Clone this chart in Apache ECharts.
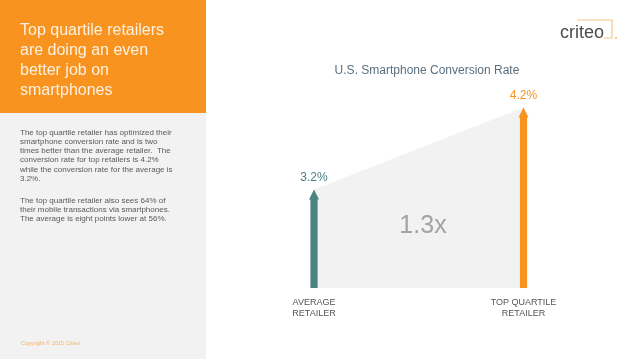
<!DOCTYPE html>
<html>
<head>
<meta charset="utf-8">
<script src="https://cdn.jsdelivr.net/npm/echarts@6/dist/echarts.min.js"></script>
<style>
html,body{margin:0;padding:0;background:#fff;}
#chart{width:638px;height:359px;}
</style>
</head>
<body>
<div id="chart"></div>
<script>
var categories = ['AVERAGE\nRETAILER', 'TOP QUARTILE\nRETAILER'];
var values = [3.2, 4.2];
var valueLabels = ['3.2%', '4.2%'];
var arrowColors = ['#4b8282', '#f7931e'];
var ratioLabel = '1.3x';
var chartTitle = 'U.S. Smartphone Conversion Rate';
var headline = ['Top quartile retailers', 'are doing an even', 'better job on', 'smartphones'];
var para1 = ['The top quartile retailer has optimized their', 'smartphone conversion rate and is two', 'times better than the average retailer.  The', 'conversion rate for top retailers is 4.2%', 'while the conversion rate for the average is', '3.2%.'];
var para2 = ['The top quartile retailer also sees 64% of', 'their mobile transactions via smartphones.', 'The average is eight points lower at 56%.'];
var copyright = 'Copyright \u00a9 2015 Criteo';
var yMin = 2, yMax = 4.5;

var chart = echarts.init(document.getElementById('chart'), null, {renderer: 'canvas'});
var font = '"Liberation Sans", Arial, Helvetica, sans-serif';

var graphics = [
  {type: 'rect', shape: {x: 0, y: 0, width: 206, height: 359}, style: {fill: '#f2f2f2'}, z: -10},
  {type: 'rect', shape: {x: 0, y: 0, width: 206, height: 113}, style: {fill: '#f7931e'}, z: -9},
  {type: 'text', left: 20, top: 21, style: {text: headline.join('\n'), fill: '#fdf1e2', font: '16px ' + font, lineHeight: 20}},
  {type: 'text', left: 20, top: 128, style: {text: para1.join('\n'), fill: '#5a5a5a', font: '8px ' + font, lineHeight: 9.2}},
  {type: 'text', left: 20, top: 196, style: {text: para2.join('\n'), fill: '#5a5a5a', font: '8px ' + font, lineHeight: 9.2}},
  {type: 'text', left: 21, top: 340, style: {text: copyright, fill: '#f6b06a', font: '5.5px ' + font}},
  {type: 'text', left: 560, top: 24, style: {text: 'criteo', fill: '#4d4d4d', font: '18px ' + font}},
  {type: 'polyline', shape: {points: [[577, 20], [612, 20], [612, 38], [604, 38]]}, style: {stroke: '#f7c48a', lineWidth: 1.2, fill: null}},
  {type: 'circle', shape: {cx: 616, cy: 38, r: 0.9}, style: {fill: '#f7b060'}},
  {type: 'text', x: 423, y: 226, style: {text: ratioLabel, fill: '#a3a3a3', font: '25px ' + font, align: 'center', verticalAlign: 'middle'}, z: 3}
];

chart.setOption({
  animation: false,
  backgroundColor: '#ffffff',
  title: {
    text: chartTitle, left: 422, top: 60, textAlign: 'center',
    textStyle: {color: '#5b6f7d', fontSize: 12, fontWeight: 'normal', fontFamily: font}
  },
  graphic: graphics,
  grid: {left: 314, right: 114.5, top: 83, bottom: 71},
  xAxis: {
    type: 'category', data: categories, boundaryGap: false,
    axisLine: {show: false}, axisTick: {show: false}, splitLine: {show: false},
    axisLabel: {color: '#555', fontSize: 9, lineHeight: 11, margin: 9, fontFamily: font, interval: 0}
  },
  yAxis: {
    type: 'value', min: yMin, max: yMax, show: false
  },
  series: [
    {
      type: 'line', data: values, symbol: 'none', lineStyle: {width: 0},
      areaStyle: {color: '#f2f2f2', opacity: 1}, z: 1, silent: true
    },
    {
      type: 'custom', z: 5,
      data: values.map(function (v, i) { return [i, v]; }),
      renderItem: function (params, api) {
        var i = api.value(0), v = api.value(1);
        var tip = api.coord([i, v]);
        var base = api.coord([i, yMin]);
        var x = tip[0];
        var sw = 3.6, hw = 5, hh = 10;
        var col = arrowColors[params.dataIndex];
        return {
          type: 'group',
          children: [
            {type: 'polygon', shape: {points: [
              [x - sw, base[1]], [x - sw, tip[1] + hh], [x - hw, tip[1] + hh], [x, tip[1]],
              [x + hw, tip[1] + hh], [x + sw, tip[1] + hh], [x + sw, base[1]]
            ]}, style: {fill: col}},
            {type: 'text', x: x, y: tip[1] - 12, style: {
              text: valueLabels[params.dataIndex], fill: col, font: '12px ' + font,
              align: 'center', verticalAlign: 'middle'
            }}
          ]
        };
      }
    }
  ]
});
</script>
</body>
</html>
